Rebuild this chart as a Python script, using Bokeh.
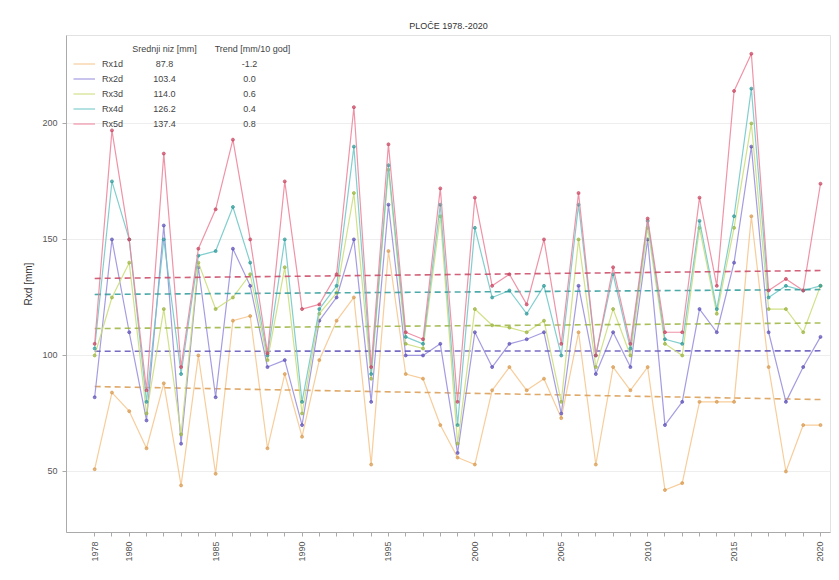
from bokeh.plotting import figure
from bokeh.models import Legend, LegendItem, Label, FixedTicker, Range1d
from bokeh.embed import file_html
from bokeh.resources import INLINE
import math

years = list(range(1978, 2021))
rx1d = [51, 84, 76, 60, 88, 44, 100, 49, 115, 117, 60, 92, 65, 98, 115, 125, 53, 145, 92, 90, 70, 56,
        53, 85, 95, 85, 90, 73, 110, 53, 95, 85, 95, 42, 45, 80, 80, 80, 160, 95, 50, 70, 70]
rx2d = [82, 150, 110, 72, 156, 62, 138, 82, 146, 130, 95, 98, 70, 115, 125, 150, 80, 165, 100, 100, 105, 58,
        110, 95, 105, 107, 110, 75, 130, 92, 110, 95, 150, 70, 80, 120, 110, 140, 190, 110, 80, 95, 108]
rx3d = [100, 125, 140, 75, 120, 66, 140, 120, 125, 135, 98, 138, 75, 118, 127, 170, 90, 180, 105, 103, 160, 62,
        120, 113, 112, 110, 115, 80, 150, 95, 120, 100, 155, 105, 100, 155, 118, 155, 200, 120, 120, 110, 130]
rx4d = [103, 175, 150, 80, 150, 92, 143, 145, 164, 140, 100, 150, 80, 120, 130, 190, 92, 182, 108, 105, 165, 70,
        155, 125, 128, 118, 130, 100, 165, 100, 135, 103, 158, 107, 105, 158, 120, 160, 215, 125, 130, 128, 130]
rx5d = [105, 197, 150, 85, 187, 95, 146, 163, 193, 150, 101, 175, 120, 122, 135, 207, 95, 191, 110, 107, 172, 80,
        168, 130, 135, 122, 150, 105, 170, 100, 138, 105, 159, 110, 110, 168, 130, 214, 230, 128, 133, 128, 174]

series_names = ["Rx1d", "Rx2d", "Rx3d", "Rx4d", "Rx5d"]
series_means = ["87.8", "103.4", "114.0", "126.2", "137.4"]
series_trends = ["-1.2", "0.0", "0.6", "0.4", "0.8"]
trend_start = [86.6, 101.8, 111.6, 126.3, 133.2]
trend_end = [81.0, 102.0, 114.0, 128.4, 136.6]
label_years = [1978, 1980, 1985, 1990, 1995, 2000, 2005, 2010, 2015, 2020]

line_colors = ["#f6c48a", "#948bdc", "#c9dc74", "#6cc5c5", "#ec8098"]
dark_colors = ["#d99a50", "#5e52b8", "#9ab43e", "#2f9a9a", "#c94763"]

FONT = "Liberation Sans"

p = figure(width=835, height=575, output_backend="svg", toolbar_location=None,
           x_range=Range1d(1976.37, 2020.58), y_range=Range1d(23.7, 237.9),
           min_border_left=66, min_border_right=5, min_border_top=35, min_border_bottom=43,
           title="PLOČE 1978.-2020")
p.title.align = "center"
p.title.text_font = FONT
p.title.text_font_size = "9px"
p.title.text_font_style = "normal"
p.title.text_color = "#333333"

p.outline_line_color = "#e2e2e2"
p.xgrid.grid_line_color = None
p.ygrid.grid_line_color = "#eeeeee"
p.ygrid.ticker = FixedTicker(ticks=[50, 100, 150, 200])

p.yaxis.ticker = FixedTicker(ticks=[50, 100, 150, 200])
p.xaxis.ticker = FixedTicker(ticks=years)
p.xaxis.major_label_overrides = {y: (str(y) if y in label_years else "") for y in years}
p.xaxis.major_label_orientation = math.pi / 2
for ax in (p.xaxis[0], p.yaxis[0]):
    ax.axis_line_color = "#aaaaaa"
    ax.major_tick_line_color = "#aaaaaa"
    ax.major_tick_out = 4
    ax.major_tick_in = 0
    ax.minor_tick_line_color = None
    ax.major_label_text_font = FONT
    ax.major_label_text_font_size = "9px"
    ax.major_label_text_color = "#555555"
p.yaxis.axis_label = "Rxd [mm]"
p.yaxis.axis_label_text_font = FONT
p.yaxis.axis_label_text_font_size = "10px"
p.yaxis.axis_label_text_font_style = "normal"
p.yaxis.axis_label_text_color = "#333333"

all_series = [rx1d, rx2d, rx3d, rx4d, rx5d]
items = []
for name, vals, c, dc, ts, te in zip(series_names, all_series, line_colors, dark_colors, trend_start, trend_end):
    r = p.line(years, vals, line_color=c, line_width=1.2, line_alpha=0.85)
    p.scatter(years, vals, size=3, fill_color=dc, line_color=dc, alpha=0.7)
    p.line([years[0], years[-1]], [ts, te], line_color=dc, line_width=1.6, line_dash="6 4", line_alpha=0.85)
    items.append(LegendItem(label=name, renderers=[r]))

legend = Legend(items=items, location=(7, 401), orientation="vertical",
                label_text_font=FONT, label_text_font_size="9px", label_text_color="#444444",
                glyph_width=22, glyph_height=15, label_height=15, spacing=0, padding=2,
                label_standoff=7, margin=0, border_line_color=None, background_fill_alpha=0)
p.add_layout(legend, "center")

frame_left = 68
frame_bottom = 532
def add_text(txt, cx, cy):
    p.add_layout(Label(x=cx - frame_left, y=frame_bottom - cy, x_units="screen", y_units="screen", text=txt,
                       text_font=FONT, text_font_size="9px", text_color="#444444",
                       text_align="center", text_baseline="middle"))

add_text("Srednji niz [mm]", 166, 48)
add_text("Trend [mm/10 god]", 254, 48)
for i, (m, t) in enumerate(zip(series_means, series_trends)):
    cy = 63 + 15 * i
    add_text(m, 166, cy)
    add_text(t, 251, cy)

open("out.html", "w").write(file_html(p, INLINE))
